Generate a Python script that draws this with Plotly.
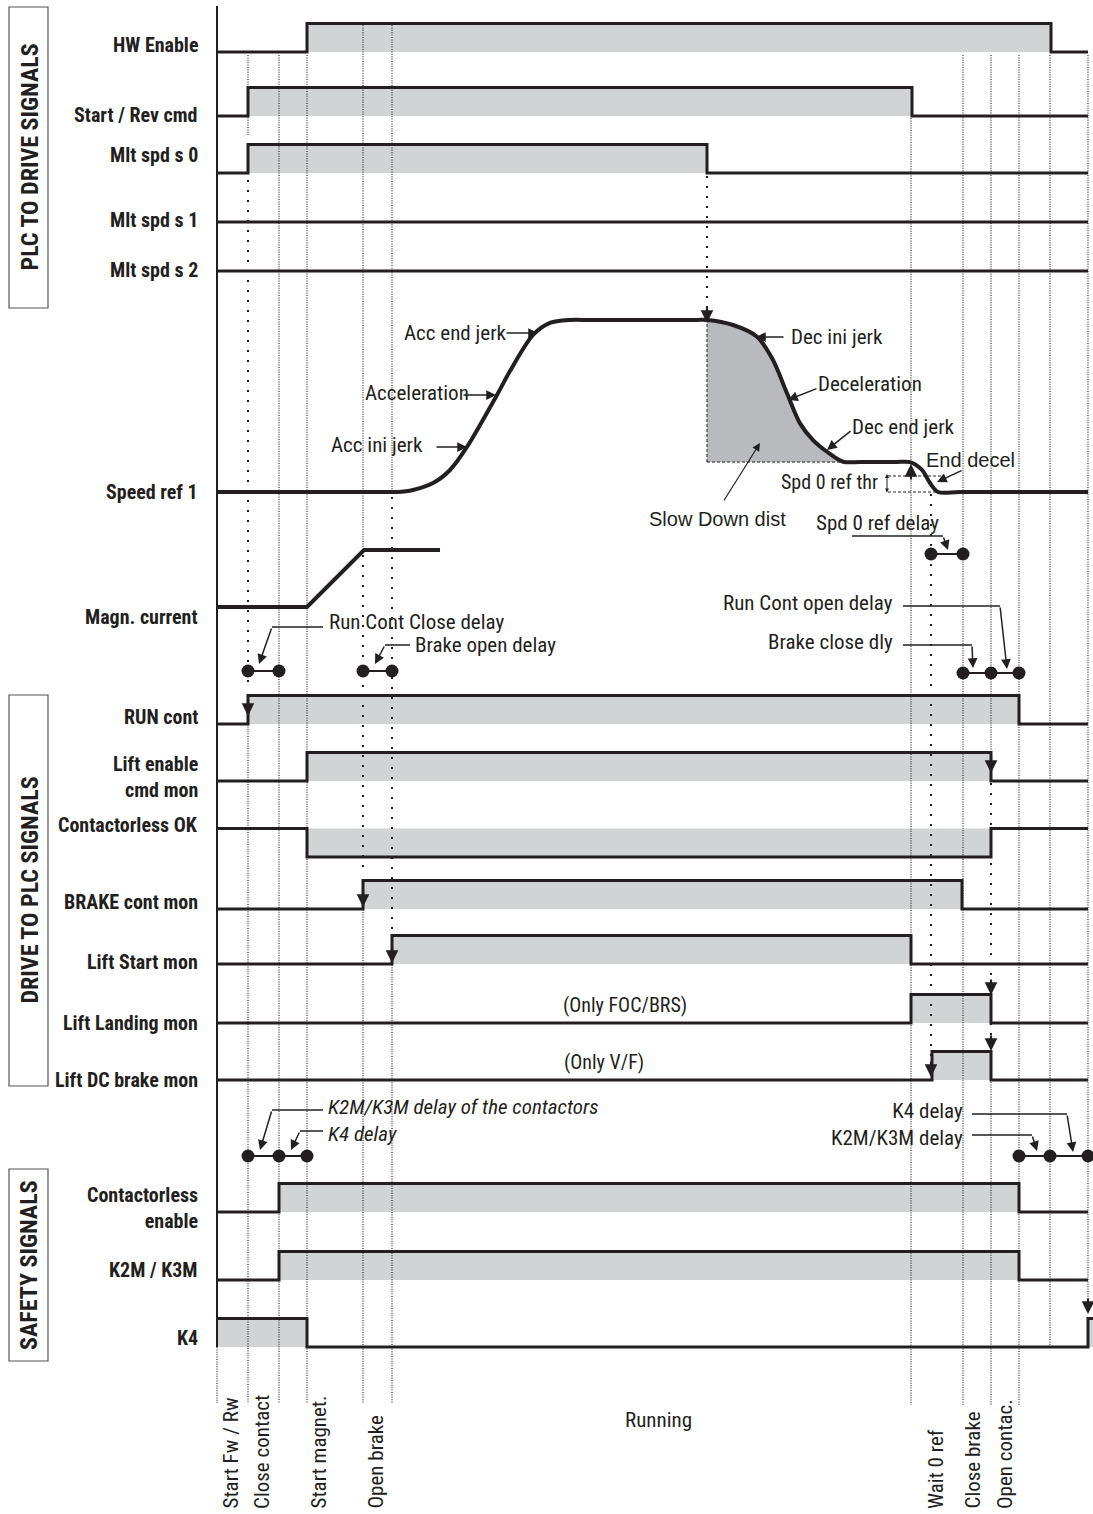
import subprocess
import plotly.graph_objects as go

W, H = 1093, 1514

# ---------------- data ----------------
t_start = 217
event_t = [217, 248, 279, 307, 363, 392, 707, 911, 931, 963, 991, 1019, 1050, 1088]

sig_labels = ["HW Enable", "Start / Rev cmd", "Mlt spd s 0", "Mlt spd s 1", "Mlt spd s 2",
              "RUN cont", "Lift enable<br>cmd mon", "Contactorless OK", "BRAKE cont mon",
              "Lift Start mon", "Lift Landing mon", "Lift DC brake mon",
              "Contactorless<br>enable", "K2M / K3M", "K4"]
sig_init = [0, 0, 0, 0, 0, 0, 0, 1, 0, 0, 0, 0, 0, 0, 1]
sig_edges = [[307, 1051], [248, 912], [248, 707], [], [],
             [248, 1019], [307, 991], [307, 991], [363, 962], [392, 911], [911, 991], [932, 991],
             [279, 1019], [279, 1019], [307, 1088]]
sig_active = [1, 1, 1, 1, 1, 1, 1, 0, 1, 1, 1, 1, 1, 1, 1]
sig_stop = [1088] * 14 + [1093]

speed_t = [217, 380, 397, 413, 433, 450, 467, 497, 510, 533, 550, 570, 590, 690, 707, 733, 757,
           773, 787, 800, 813, 827, 843, 860, 895, 910, 922, 930, 938, 960, 1088]
speed_pct = [0, 0, 0, 1.2, 5.2, 12.8, 26.2, 56.4, 70.3, 91.3, 98.3, 100, 100, 100, 100, 97.1,
             90.3, 76.7, 57.4, 39.9, 30.2, 23.4, 17.6, 17.4, 17.4, 17.4, 12.8, 5.2, 0, 0, 0]
decel_t = [707, 733, 757, 773, 787, 800, 813, 827, 843]
decel_pct = [100, 97.1, 90.3, 76.7, 57.4, 39.9, 30.2, 23.4, 17.6]
slow_pct = 17.4
spd0_thr_pct = 9.3

magn_t = [217, 307, 364, 440]
magn_pct = [0, 0, 100, 100]

delay_run_close = [248, 279]
delay_brake_open = [363, 392]
delay_spd0 = [931, 963]
delay_stop = [963, 991, 1019]
delay_safety_on = [248, 279, 307]
delay_safety_off = [1019, 1050, 1088]

phase_labels = ["Start Fw / Rw", "Close contact", "Start magnet.", "Open brake",
                "Wait 0 ref", "Close brake", "Open contac."]
phase_t = [230, 262, 318, 375, 936, 972, 1005]

# ---------------- layout constants ----------------
row_low = [52, 116, 173, 222, 271, 724, 781, 857, 909, 964, 1023, 1080, 1212, 1280, 1347]
label_y = [45, 115, 155, 220, 270, 717, 777, 825, 902, 962, 1023, 1080, 1208, 1270, 1338]
AMP = 28.5

INK = "#231f20"
GRAY = "#d1d3d4"
DARKGRAY = "#b9babd"
REG = "Liberation Sans, Arial, sans-serif"


def _families():
    try:
        return subprocess.run(["fc-list", ":", "family"], capture_output=True, text=True,
                              timeout=20).stdout
    except Exception:
        return ""


_fams = _families()
if "Roboto Condensed" in _fams:
    NARROW = "Roboto Condensed, DejaVu Sans Condensed, Liberation Sans, sans-serif"
    SZ_LABEL, SZ_TEXT, SZ_TITLE, SZ_SMALL = 20, 21, 24, 20
else:
    NARROW = "DejaVu Sans Condensed, Liberation Sans, sans-serif"
    SZ_LABEL, SZ_TEXT, SZ_TITLE, SZ_SMALL = 16.5, 17.5, 21, 17

fig = go.Figure()
axes = {}
shapes = []
annos = []


def add_axis(idx, low_px, amp_px, vmin, vmax, pad):
    span = vmax - vmin
    ppu = amp_px / span
    bottom_px = low_px + pad * span * ppu
    top_px = low_px - amp_px - pad * span * ppu
    axes[f"yaxis{idx}"] = dict(domain=[(H - bottom_px) / H, (H - top_px) / H],
                               range=[vmin - pad * span, vmax + pad * span],
                               visible=False, anchor="x", fixedrange=True)
    return f"y{idx}"


def hline(x0, x1, y, yref="y", width=1.5, dash=None, color=INK):
    ln = dict(color=color, width=width)
    if dash:
        ln["dash"] = dash
    shapes.append(dict(type="line", xref="x", yref=yref, x0=x0, x1=x1, y0=y, y1=y, line=ln,
                       layer="above"))


def vline(x, y0, y1, yref="y", width=1, dash=None, layer="above"):
    ln = dict(color=INK, width=width)
    if dash:
        ln["dash"] = dash
    shapes.append(dict(type="line", xref="x", yref=yref, x0=x, x1=x, y0=y0, y1=y1, line=ln,
                       layer=layer))


def text(x, y, s, anchor="center", size=None, family=None, align=None, angle=0):
    d = dict(x=x, y=y, xref="x", yref="y", text=s, showarrow=False, xanchor=anchor,
             yanchor="middle",
             font=dict(family=family or NARROW, size=size or SZ_TEXT, color=INK),
             textangle=angle)
    if align:
        d["align"] = align
    annos.append(d)


def arrow(x0, y0, x1, y1, width=1.5, size=1.3):
    annos.append(dict(x=x1, y=y1, ax=x0, ay=y0, xref="x", yref="y", axref="x", ayref="y",
                      text="", showarrow=True, arrowhead=2, arrowsize=size,
                      arrowwidth=width, arrowcolor=INK))


def edge_mark(x, tip, direction="down"):
    annos.append(dict(x=x, y=tip, xref="x", yref="y", ax=0, ay=-17 if direction == "down" else 17,
                      text="", showarrow=True, arrowhead=2, arrowsize=1.15, arrowwidth=2.2,
                      arrowcolor=INK))


# ---- section boxes ----
for (y0, y1, title) in [(7, 308, "PLC TO DRIVE SIGNALS"), (695, 1086, "DRIVE TO PLC SIGNALS"),
                        (1169, 1361, "SAFETY SIGNALS")]:
    shapes.append(dict(type="rect", xref="x", yref="y", x0=9, x1=48, y0=y0, y1=y1,
                       line=dict(color="#555555", width=1.2), fillcolor="rgba(0,0,0,0)",
                       layer="above"))
    text(29, (y0 + y1) / 2, "<b>" + title + "</b>", size=SZ_TITLE, angle=-90)

# ---- digital signals ----
for i, name in enumerate(sig_labels):
    yref = add_axis(i + 2, row_low[i], AMP, 0, 1, 0.35)
    bounds = [t_start] + sig_edges[i] + [sig_stop[i]]
    xs, ys = [t_start], [sig_init[i]]
    s = sig_init[i]
    for j in range(len(bounds) - 1):
        st = sig_init[i] if j % 2 == 0 else 1 - sig_init[i]
        if st == sig_active[i] and len(bounds) > 2:
            shapes.append(dict(type="rect", xref="x", yref=yref, x0=bounds[j], x1=bounds[j + 1],
                               y0=0, y1=1, fillcolor=GRAY, line=dict(width=0), layer="below"))
    for e in sig_edges[i]:
        s = 1 - s
        xs.append(e)
        ys.append(s)
    xs.append(sig_stop[i])
    ys.append(s)
    fig.add_trace(go.Scatter(x=xs, y=ys, xaxis="x", yaxis=yref, mode="lines",
                             line=dict(shape="hv", color=INK, width=3),
                             hoverinfo="skip", showlegend=False))
    text(200, label_y[i], "<b>" + name + "</b>", anchor="right", align="right", size=SZ_LABEL)

# ---- speed reference ----
ysp = add_axis(17, 492, 172, 0, 100, 0.1)
fig.add_trace(go.Scatter(x=[decel_t[0], decel_t[-1]], y=[slow_pct, slow_pct], xaxis="x", yaxis=ysp,
                         mode="lines", line=dict(color=INK, width=1, dash="3px,2px"),
                         hoverinfo="skip", showlegend=False))
fig.add_trace(go.Scatter(x=decel_t, y=decel_pct, xaxis="x", yaxis=ysp, mode="lines",
                         line=dict(shape="spline", smoothing=0.8, width=0, color=DARKGRAY),
                         fill="tonexty", fillcolor=DARKGRAY, hoverinfo="skip", showlegend=False))
vline(decel_t[0], slow_pct, 100, yref=ysp, dash="3px,2px")
fig.add_trace(go.Scatter(x=speed_t, y=speed_pct, xaxis="x", yaxis=ysp, mode="lines",
                         line=dict(shape="spline", smoothing=0.8, width=4, color=INK),
                         hoverinfo="skip", showlegend=False))
hline(888, 942, spd0_thr_pct, yref=ysp, width=1, dash="3px,2px")
hline(888, 942, 0, yref=ysp, width=1, dash="3px,2px")
annos.append(dict(x=887, y=474, ax=887, ay=494, xref="x", yref="y", axref="x", ayref="y",
                  text="", showarrow=True, arrowhead=2, startarrowhead=2, arrowside="end+start",
                  arrowsize=0.8, startarrowsize=0.8, arrowwidth=1, arrowcolor=INK))
text(200, 492, "<b>Speed ref 1</b>", anchor="right", size=SZ_LABEL)

# ---- magnetizing current ----
ymg = add_axis(18, 607, 57, 0, 100, 0.2)
fig.add_trace(go.Scatter(x=magn_t, y=magn_pct, xaxis="x", yaxis=ymg, mode="lines",
                         line=dict(width=4, color=INK), hoverinfo="skip", showlegend=False))
text(200, 617, "<b>Magn. current</b>", anchor="right", size=SZ_LABEL)

# ---- guide lines ----
DENSE = "1px,1.4px"
SPARSE = "2px,8px"
guides = [
    (248, 55, 135, DENSE), (248, 180, 690, SPARSE), (248, 724, 1403, DENSE),
    (279, 55, 1403, DENSE), (307, 55, 1403, DENSE),
    (363, 25, 547, DENSE), (363, 555, 873, SPARSE), (363, 900, 1403, DENSE),
    (392, 25, 490, DENSE), (392, 497, 930, SPARSE), (392, 960, 1403, DENSE),
    (217, 1347, 1403, DENSE),
    (707, 176, 316, SPARSE),
    (911, 118, 1405, DENSE),
    (931, 494, 1072, SPARSE),
    (963, 55, 1405, DENSE),
    (991, 55, 760, DENSE), (991, 783, 1045, SPARSE), (991, 1082, 1405, DENSE),
    (1019, 55, 1405, DENSE), (1050, 55, 1347, DENSE), (1088, 55, 1308, DENSE),
]
for (gx, gy0, gy1, gd) in guides:
    vline(gx, gy0, gy1, width=2 if gd == SPARSE else 1.1, dash=gd)
# left time axis
vline(217, 6, 1347, width=2)

# ---- edge arrow marks ----
for (ex, ey, ed) in [(248, 716, "down"), (991, 773, "down"), (363, 907, "down"),
                     (392, 963, "down"), (991, 995, "down"), (931, 1077, "down"),
                     (991, 1051, "down"), (1088, 1314, "down"), (707, 323, "down"),
                     (911, 464, "up")]:
    edge_mark(ex, ey, ed)

# ---- delay dumbbells ----
for (pts, yy) in [(delay_run_close, 671), (delay_brake_open, 671), (delay_spd0, 554),
                  (delay_stop, 673), (delay_safety_on, 1156), (delay_safety_off, 1156)]:
    fig.add_trace(go.Scatter(x=pts, y=[yy] * len(pts), xaxis="x", yaxis="y",
                             mode="lines+markers", line=dict(color=INK, width=2),
                             marker=dict(size=13, color=INK), hoverinfo="skip",
                             showlegend=False))

# ---- speed profile annotations ----
text(455, 333, "Acc end jerk")
arrow(505, 333, 538, 333)
text(417, 393, "Acceleration")
arrow(462, 395, 496, 395)
text(377, 445, "Acc ini jerk")
arrow(435, 447, 467, 447)
text(837, 337, "Dec ini jerk")
arrow(785, 337, 756, 337)
text(870, 384, "Deceleration")
arrow(818, 388, 788, 400)
text(903, 427, "Dec end jerk")
arrow(852, 430, 827, 450)
text(970, 460, "End decel", family=REG, size=20)
arrow(963, 470, 937, 482)
text(717, 519, "Slow Down dist", family=REG, size=20)
arrow(723, 502, 760, 443, width=1.2)
text(880, 482, "Spd 0 ref thr", anchor="right", size=SZ_SMALL)
text(877, 523, "Spd 0 ref delay")
hline(852, 943, 536)
arrow(943, 536, 948, 550)

# ---- delay annotations ----
text(327, 622, "Run Cont Close delay", anchor="left")
hline(323, 272, 627)
arrow(272, 627, 259, 664)
text(413, 645, "Brake open delay", anchor="left")
hline(410, 385, 645)
arrow(385, 645, 375, 664)
text(895, 603, "Run Cont open delay", anchor="right")
hline(903, 1000, 606)
arrow(1000, 606, 1007, 669)
text(895, 642, "Brake close dly", anchor="right")
hline(903, 972, 645)
arrow(972, 645, 973, 668)

text(625, 1005, "(Only FOC/BRS)", size=SZ_SMALL)
text(604, 1062, "(Only V/F)", size=SZ_SMALL)

text(326, 1120, "<i>K2M/K3M delay of the contactors<br>K4 delay</i>", anchor="left", align="left")
hline(323, 272, 1110)
arrow(272, 1110, 260, 1150)
hline(323, 300, 1131)
arrow(300, 1131, 291, 1150)
text(965, 1124, "K4 delay<br>K2M/K3M delay", anchor="right", align="right")
hline(972, 1067, 1114)
arrow(1067, 1114, 1073, 1152)
hline(972, 1032, 1135)
arrow(1032, 1135, 1037, 1151)

# ---- phase labels ----
for (pl, pt) in zip(phase_labels, phase_t):
    annos.append(dict(x=pt, y=1511, xref="x", yref="y", text=pl, showarrow=False,
                      textangle=-90, xanchor="center", yanchor="bottom",
                      font=dict(family=NARROW, size=SZ_TEXT, color=INK)))
text(658, 1420, "Running")

fig.update_layout(
    width=W, height=H, margin=dict(l=0, r=0, t=0, b=0),
    paper_bgcolor="white", plot_bgcolor="rgba(0,0,0,0)",
    xaxis=dict(range=[0, W], visible=False, fixedrange=True, domain=[0, 1], anchor="y"),
    yaxis=dict(range=[H, 0], visible=False, fixedrange=True, domain=[0, 1], anchor="x"),
    shapes=shapes, annotations=annos, showlegend=False,
    **axes,
)
fig.write_html("out.html", config={"displayModeBar": False},
               post_script="document.body.style.margin='0px';document.body.style.overflow='hidden';")
